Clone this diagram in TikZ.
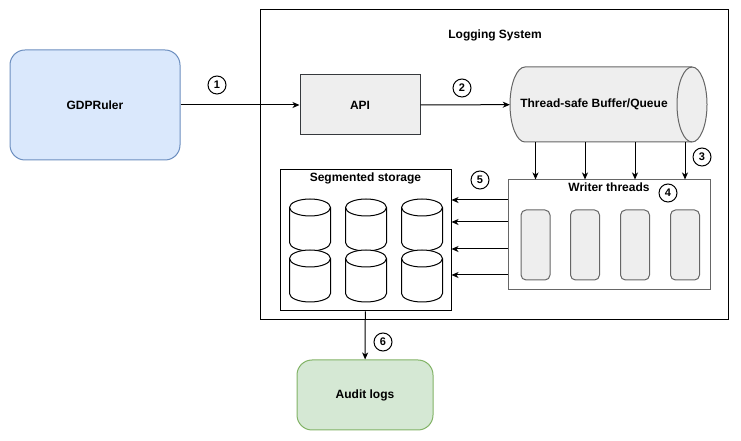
\documentclass[tikz,border=0pt]{standalone}
\usepackage{fontspec}
\setmainfont{Liberation Sans}
\usetikzlibrary{arrows.meta,positioning,shapes.geometric,calc}
\definecolor{userfill}{HTML}{DAE8FC}
\definecolor{userline}{HTML}{6C8EBF}
\definecolor{auditfill}{HTML}{D5E8D4}
\definecolor{auditline}{HTML}{82B366}
\definecolor{partfill}{HTML}{EEEEEE}
\definecolor{partline}{HTML}{666666}
\definecolor{apiline}{HTML}{36393D}
\tikzset{
  lbl/.style={font=\fontsize{12}{14}\selectfont\bfseries},
  roundbox/.style={draw, rounded corners=15pt, line width=1pt, lbl},
  plainbox/.style={draw, line width=1pt, lbl},
  thread/.style={draw=partline, fill=partfill, rounded corners=5pt, line width=1pt, minimum width=29pt, minimum height=70pt},
  num/.style={draw, circle, line width=1pt, inner sep=0pt, minimum size=18pt, font=\fontsize{11}{11}\selectfont\bfseries},
  link/.style={-{Stealth[length=7pt,width=6pt,inset=2pt]}, line width=1pt},
}
\begin{document}
\begin{tikzpicture}[x=1pt,y=1pt]
			%%%%% START %%%%%
			\useasboundingbox (0,0) rectangle (741,441);
			
			\node[plainbox, minimum width=468pt, minimum height=310pt] (logsys) at (494,276) {};
			\node[lbl] (logtitle) at (495,406) {Logging System};
			
			\node[roundbox, fill=userfill, draw=userline, minimum width=170pt, minimum height=110pt] (gdpr) at (95,336) {GDPRuler};
			\node[plainbox, fill=partfill, draw=apiline, minimum width=120pt, minimum height=60pt] (api) at (360,336) {API};
			
			% the queue, drawn as a lying cylinder
			\node[inner sep=0pt, minimum width=197pt, minimum height=75pt] (queue) at (608.5,336.5) {};
			\draw[draw=partline, fill=partfill, line width=1pt] (525,374) arc[start angle=90, end angle=270, x radius=15, y radius=37.5]
				-- (692,299) arc[start angle=-90, end angle=90, x radius=15, y radius=37.5] -- cycle;
			\draw[draw=partline, line width=1pt] (692,374) arc[start angle=90, end angle=270, x radius=15, y radius=37.5];
			\node[lbl] (queuetext) at (594,336.5) {Thread-safe Buffer/Queue};
			
			\node[plainbox, draw=partline, minimum width=202pt, minimum height=110pt] (writers) at (609,206) {};
			\node[lbl, below=0pt of writers.north] (writerstitle) {Writer threads};
			\foreach \x [count=\i] in {535.5,585,635,685}
				\node[thread] (t\i) at (\x,196) {};
			
			\node[plainbox, minimum width=171pt, minimum height=141pt] (store) at (365.5,200.5) {};
			\node[lbl, below=0pt of store.north] (storetitle) {Segmented storage};
			\foreach \cx in {310,366,422}
				\foreach \ty in {242,191} {
					\draw[line width=1pt, fill=white] (\cx-20.5,\ty-8.5) -- (\cx-20.5,\ty-43.5)
						arc[start angle=180, end angle=360, x radius=20.5, y radius=8.5] -- (\cx+20.5,\ty-8.5)
						arc[start angle=0, end angle=180, x radius=20.5, y radius=8.5] -- cycle;
					\draw[line width=1pt] (\cx-20.5,\ty-8.5) arc[start angle=180, end angle=360, x radius=20.5, y radius=8.5];
				}
			
			\node[roundbox, fill=auditfill, draw=auditline, minimum width=136pt, minimum height=70pt] (audit) at (365,46) {Audit logs};
			
			% numbered steps
			\node[num] (n1) at (217,356) {1};
			\node[num] (n2) at (462,353) {2};
			\node[num] (n3) at (702,284) {3};
			\node[num] (n4) at (668,248) {4};
			\node[num] (n5) at (480,261) {5};
			\node[num] (n6) at (383,99) {6};
			
			% connectors
			\draw[link] (gdpr) -- (api);
			\draw[link] (api) -- (queue);
			\foreach \i in {1,...,4}
				\draw[link] (queue.south -| t\i) -- (writers.north -| t\i);
			\foreach \dy in {35,13,-14,-40}
				\draw[link] ($(writers.west)+(0,\dy)$) -- ($(writers.west -| store.east)+(0,\dy)$);
			\draw[link] (store) -- (audit);
			
			%%%%% END %%%%%
\end{tikzpicture}
\end{document}
